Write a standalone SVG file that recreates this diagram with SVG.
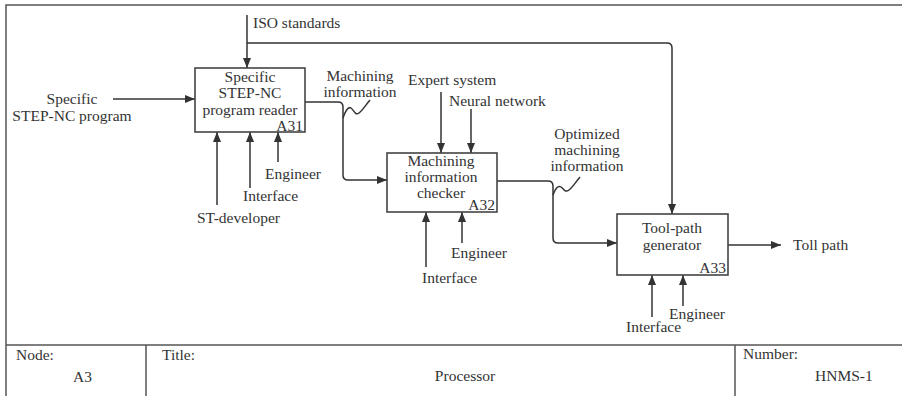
<svg xmlns="http://www.w3.org/2000/svg" width="902" height="396" viewBox="0 0 902 396">
  <defs>
    <marker id="arrow" markerUnits="userSpaceOnUse" markerWidth="10" markerHeight="8" refX="10" refY="4" orient="auto">
      <path d="M0,0 L10,4 L0,8 z" fill="#333"/>
    </marker>
    <style>
      text { font-family: "Liberation Serif", "Times New Roman", serif; font-size: 15.5px; fill: #333; }
      .mid { text-anchor: middle; }
      .end { text-anchor: end; }
      .box { fill: #fff; stroke: #444; stroke-width: 1.6; }
      .frame { fill: none; stroke: #555; stroke-width: 1.5; }
      .flow { fill: none; stroke: #333; stroke-width: 1.5; marker-end: url(#arrow); }
      .line { fill: none; stroke: #333; stroke-width: 1.5; }
    </style>
  </defs>
  <rect width="902" height="396" fill="#fff"/>

  <!-- sheet frame and title block -->
  <g id="frame">
    <path class="frame" d="M6,400 V5 H905"/>
    <path class="frame" d="M6,345 H905 M146,345 V400 M735,345 V400"/>
    <text x="16" y="360">Node:</text>
    <text x="73" y="382">A3</text>
    <text x="162" y="360">Title:</text>
    <text class="mid" x="465" y="381">Processor</text>
    <text x="743" y="359">Number:</text>
    <text x="815" y="381">HNMS-1</text>
  </g>

  <!-- connectors -->
  <g id="connectors">
    <path class="flow" d="M113,99 H195"/>
    <path class="flow" d="M247,15 V68"/>
    <path class="flow" d="M247,43 H667 Q672,43 672,48 V214"/>
    <path class="flow" d="M305,102 H338 Q343,102 343,107 V175 Q343,180 348,180 H387"/>
    <path class="line" d="M343,118 C345,112 348,106 351,108 C354,110 355,116 359,113 C362,111 365,106 370,100"/>
    <path class="flow" d="M217,205 V132"/>
    <path class="flow" d="M250,188 V132"/>
    <path class="flow" d="M278,162 V132"/>
    <path class="flow" d="M441,92 V153"/>
    <path class="flow" d="M471,109 V153"/>
    <path class="flow" d="M426,267 V212"/>
    <path class="flow" d="M462,243 V212"/>
    <path class="flow" d="M497,181 H548 Q553,181 553,186 V238 Q553,243 558,243 H617"/>
    <path class="line" d="M553,195 C555,189 558,185 561,187 C564,189 565,193 569,190 C572,188 575,183 580,177"/>
    <path class="flow" d="M652,317 V275"/>
    <path class="flow" d="M683,306 V275"/>
    <path class="flow" d="M728,245 H781"/>
  </g>

  <!-- connector labels -->
  <g id="labels">
    <text class="mid" x="72" y="104">Specific</text>
    <text class="mid" x="72" y="121">STEP-NC program</text>
    <text x="253" y="28">ISO standards</text>
    <text class="mid" x="360" y="81">Machining</text>
    <text class="mid" x="360" y="97">information</text>
    <text x="408" y="85">Expert system</text>
    <text x="449" y="106">Neural network</text>
    <text class="mid" x="587" y="139">Optimized</text>
    <text class="mid" x="587" y="155">machining</text>
    <text class="mid" x="587" y="171">information</text>
    <text x="793" y="250">Toll path</text>
    <text x="265" y="179">Engineer</text>
    <text x="243" y="201">Interface</text>
    <text x="197" y="223">ST-developer</text>
    <text x="451" y="258">Engineer</text>
    <text x="422" y="283">Interface</text>
    <text x="669" y="319">Engineer</text>
    <text x="626" y="332">Interface</text>
  </g>

  <g id="A31">
    <rect class="box" x="195" y="68" width="110" height="64"/>
    <text class="mid" x="250" y="82">Specific</text>
    <text class="mid" x="250" y="98">STEP-NC</text>
    <text class="mid" x="250" y="115">program reader</text>
    <text class="end" x="303" y="131">A31</text>
  </g>

  <g id="A32">
    <rect class="box" x="387" y="153" width="110" height="59"/>
    <text class="mid" x="441" y="166">Machining</text>
    <text class="mid" x="441" y="182">information</text>
    <text class="mid" x="441" y="198">checker</text>
    <text class="end" x="495" y="210">A32</text>
  </g>

  <g id="A33">
    <rect class="box" x="617" y="214" width="111" height="61"/>
    <text class="mid" x="672" y="233">Tool-path</text>
    <text class="mid" x="672" y="250">generator</text>
    <text class="end" x="726" y="273">A33</text>
  </g>
</svg>
